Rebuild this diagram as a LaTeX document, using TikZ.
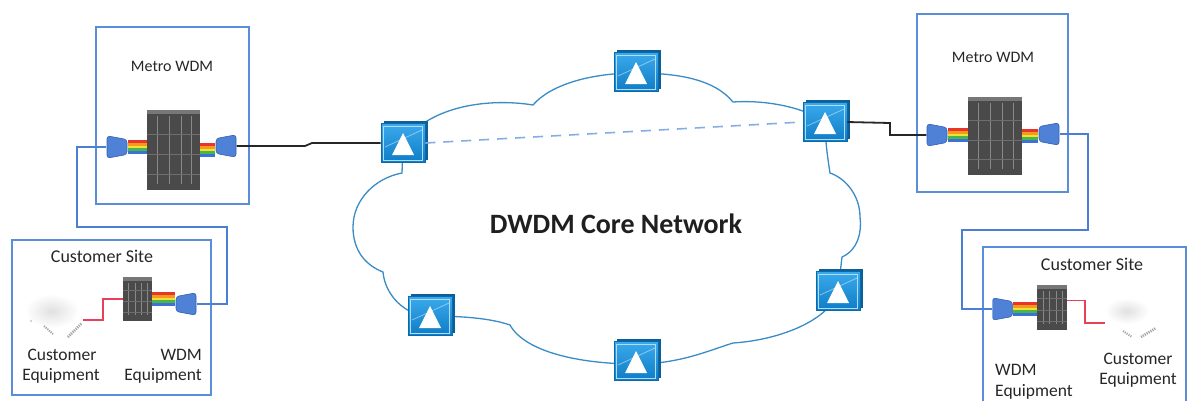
\documentclass[tikz,border=0pt]{standalone}
\usepackage{fontspec}
\setmainfont{Carlito}
\usetikzlibrary{calc,shadows}

\definecolor{boxblue}{HTML}{5B8ED8}
\definecolor{cloudline}{HTML}{3A8CC6}
\definecolor{dashblue}{HTML}{86AEE6}
\definecolor{linkblue}{HTML}{4A7FD4}
\definecolor{connfill}{HTML}{4F82D6}
\definecolor{connedge}{HTML}{2F62B4}
\definecolor{coretop}{HTML}{3AAAEC}
\definecolor{corebot}{HTML}{0F7CC6}
\definecolor{coreedge}{HTML}{0B6AAB}
\definecolor{coreback}{HTML}{0D5F99}
\definecolor{rackgray}{HTML}{4A4A4A}
\definecolor{custred}{HTML}{E8405A}
\definecolor{fibred}{HTML}{E8342A}
\definecolor{fiborange}{HTML}{F39A1F}
\definecolor{fibyellow}{HTML}{F2E034}
\definecolor{fibgreen}{HTML}{49B649}
\definecolor{fibblue}{HTML}{3F6FD8}

% five coloured wavelengths running from an anchor to the x of another anchor
\newcommand\fiberbundle[2]{%
  \foreach \fc/\fs in {fibred/5.6,fiborange/2.8,fibyellow/0,fibgreen/-2.8,fibblue/-5.6}{%
    \draw[\fc, line width=2.9pt] ($(#1)+(0pt,\fs pt)$) -- ($(#1 -| #2)+(0pt,\fs pt)$);}}

\begin{document}
\begin{tikzpicture}[x=1pt,y=-1pt,
  sitebox/.style={draw=boxblue, line width=1.4pt},
  boxtitle/.style={font=\fontsize{16}{18}\selectfont, text=black!85, inner sep=0pt, anchor=base},
  sitetitle/.style={font=\fontsize{18}{20}\selectfont, text=black!85, inner sep=0pt, anchor=base},
  eqlabel/.style={font=\fontsize{17.5}{20}\selectfont, text=black!85, inner sep=0pt},
  chassis/.style={rectangle, inner sep=0pt, fill=rackgray,
    path picture={
      \fill[rackgray!75!white] (path picture bounding box.north west) rectangle
        ($(path picture bounding box.north east)+(0pt,-4pt)$);
      \foreach \f in {0.2,0.42,0.64,0.84}
        \draw[rackgray!65!white, line width=0.7pt]
          ($(path picture bounding box.north west)!\f!(path picture bounding box.north east)+(0pt,-6pt)$) --
          ($(path picture bounding box.south west)!\f!(path picture bounding box.south east)+(0pt,6pt)$);
      \foreach \g in {0.3,0.55,0.8}
        \draw[rackgray!80!white, line width=0.4pt]
          ($(path picture bounding box.north west)!\g!(path picture bounding box.south west)$) --
          ($(path picture bounding box.north east)!\g!(path picture bounding box.south east)$);
    }},
  conn/.style={rectangle, inner sep=0pt, minimum width=21pt, minimum height=24pt},
  connwideleft/.style={conn, path picture={
      \begin{scope}[shift={(path picture bounding box.center)}]
        \fill[connfill, draw=connedge, line width=0.6pt, rounded corners=3pt]
          (-10pt,11.2pt) -- (10pt,7.5pt) -- (10pt,-7.5pt) -- (-10pt,-11.2pt) -- cycle;
      \end{scope}}},
  connwideright/.style={conn, path picture={
      \begin{scope}[shift={(path picture bounding box.center)}]
        \fill[connfill, draw=connedge, line width=0.6pt, rounded corners=3pt]
          (10pt,11.2pt) -- (-10pt,7.5pt) -- (-10pt,-7.5pt) -- (10pt,-11.2pt) -- cycle;
      \end{scope}}},
  core/.style={rectangle, inner sep=0pt, minimum width=44pt, minimum height=39pt,
    draw=coreedge, line width=0.6pt, top color=coretop, bottom color=corebot,
    general shadow={fill=coreback, shadow xshift=3pt, shadow yshift=3pt},
    path picture={
      \begin{scope}[shift={(path picture bounding box.center)}]
        \draw[white!60!coretop, line width=0.6pt] (-19.5pt,-17pt) rectangle (19.5pt,17pt);
        \draw[white, opacity=0.45, line width=0.8pt] (-18pt,-4pt) -- (19pt,13pt);
        \fill[white] (0pt,10pt) -- (11pt,-12pt) -- (-11pt,-12pt) -- cycle;
      \end{scope}}},
  cloudedge/.style={draw=cloudline, line width=1.3pt, fill=white},
  coredash/.style={draw=dashblue, line width=1.6pt, dash pattern=on 10pt off 8pt},
  uplink/.style={draw=black!85, line width=1.8pt},
  sitelink/.style={draw=linkblue, line width=1.3pt},
  clientlink/.style={draw=custred, line width=1.5pt}
]
\useasboundingbox (0,0) rectangle (1189,400);

% ---------- DWDM core cloud ----------
\path[cloudedge]
  (403,143) -- (402,173)
  .. controls (375,178) and (353,200) .. (353,227)
  .. controls (353,250) and (365,265) .. (383,272)
  .. controls (385,295) and (405,316) .. (430,316)
  .. controls (460,316) and (490,318) .. (510,325)
  .. controls (525,352) and (580,364) .. (636,364)
  .. controls (680,364) and (710,350) .. (733,343)
  .. controls (780,340) and (830,320) .. (838,291)
  -- (842,257)
  .. controls (858,250) and (862,232) .. (860,217)
  .. controls (860,195) and (845,178) .. (830,173)
  .. controls (828,160) and (825,140) .. (825,122)
  .. controls (800,105) and (760,100) .. (733,102)
  .. controls (715,80) and (680,73) .. (636,73)
  .. controls (590,73) and (550,85) .. (533,105)
  .. controls (490,98) and (430,105) .. (403,143) -- cycle;

\node[font=\fontsize{28}{32}\selectfont\bfseries, text=black!88, inner sep=0pt, anchor=base]
  (corelabel) at (616,233) {DWDM Core Network};

% ---------- core nodes ----------
\node[core] (L)  at (403,143) {};
\node[core] (T)  at (636,72)  {};
\node[core] (TR) at (825,122) {};
\node[core] (R)  at (838,291) {};
\node[core] (BL) at (430,316) {};
\node[core] (B)  at (636,361) {};

\draw[coredash] (L.east) -- (TR.west);

% ---------- left metro WDM ----------
\draw[sitebox] (96,27) rectangle (249,204);
\node[boxtitle] (mtitleL) at (172,71) {Metro WDM};
\node[chassis, minimum width=53pt, minimum height=80pt] (chL) at (173.5,150) {};
\node[connwideleft]  (cLL) at (117,147) {};
\node[connwideright] (cLR) at (226,146) {};
\fiberbundle{cLL.east}{chL.west}
\fiberbundle{chL.east}{cLR.west}
\draw[uplink] (cLR.east) -- (305,146) -- (312,143) -- (L.west);

% ---------- right metro WDM ----------
\draw[sitebox] (917,14) rectangle (1068,192);
\node[boxtitle] (mtitleR) at (993,62) {Metro WDM};
\node[chassis, minimum width=54pt, minimum height=78pt] (chR) at (995,136) {};
\node[connwideleft]  (cRL) at (937,135) {};
\node[connwideright] (cRR) at (1049,134) {};
\fiberbundle{cRL.east}{chR.west}
\fiberbundle{chR.east}{cRR.west}
\draw[uplink] (TR.east) -- (890,123) -- (890,135) -- (cRL.west);

% ---------- left customer site ----------
\draw[sitebox] (12,240) rectangle (211,395);
\node[sitetitle] (stitleL) at (102,262) {Customer Site};
\node[chassis, minimum width=29pt, minimum height=44pt] (chCL) at (137.5,299) {};
\node[connwideright, minimum height=25pt] (cCL) at (186,304) {};
\fiberbundle{chCL.east}{cCL.west}
\draw[sitelink] (cLL.west) -- (77,147) -- (77,227) -- (227,227) -- (227,304) -- (cCL.east);

\shade[inner color=gray!24, outer color=white] (52,311) ellipse (27pt and 17pt);
\draw[gray!70, line width=2pt, dash pattern=on 1.2pt off 1pt] (44,326) -- (53,334);
\draw[gray!70, line width=2.6pt, dash pattern=on 1.2pt off 1pt] (68,337) -- (82,323);
\fill[gray!70] (31,321) circle (0.8pt);
\coordinate (ceL) at (83,320);
\draw[clientlink] (chCL.west) -- (103,299) -- (103,320) -- (ceL);

\node[eqlabel, anchor=base] (custL1) at (62,360) {Customer};
\node[eqlabel, anchor=base] (custL2) at (61,380) {Equipment};
\node[eqlabel, anchor=base east] (wdmL1) at (202,360) {WDM};
\node[eqlabel, anchor=base east] (wdmL2) at (202,380) {Equipment};

% ---------- right customer site ----------
\draw[sitebox] (983,405) -- (983,247) -- (1186,247) -- (1186,405);
\node[sitetitle] (stitleR) at (1092,270) {Customer Site};
\node[chassis, minimum width=30pt, minimum height=45pt] (chCR) at (1052,307.5) {};
\node[connwideleft, minimum width=20pt, minimum height=23pt] (cCR) at (1002.5,309) {};
\fiberbundle{cCR.east}{chCR.west}
\draw[sitelink] (cRR.east) -- (1088,134) -- (1088,230) -- (962,230) -- (962,309) -- (cCR.west);

\shade[inner color=gray!24, outer color=white] (1127,311) ellipse (22pt and 13pt);
\draw[gray!70, line width=2pt, dash pattern=on 1.2pt off 1pt] (1123,331) -- (1132,337);
\draw[gray!70, line width=2.6pt, dash pattern=on 1.2pt off 1pt] (1141,337) -- (1156,328);
\coordinate (ceR) at (1105,323);
\draw[clientlink] ([yshift=7pt]chCR.east) -- (1085,300.5) -- (1085,323) -- (ceR);

\node[eqlabel, anchor=base] (custR1) at (1138,364) {Customer};
\node[eqlabel, anchor=base] (custR2) at (1138,384) {Equipment};
\node[eqlabel, anchor=base west] (wdmR1) at (995,375) {WDM};
\node[eqlabel, anchor=base west] (wdmR2) at (995,396) {Equipment};
\end{tikzpicture}
\end{document}
